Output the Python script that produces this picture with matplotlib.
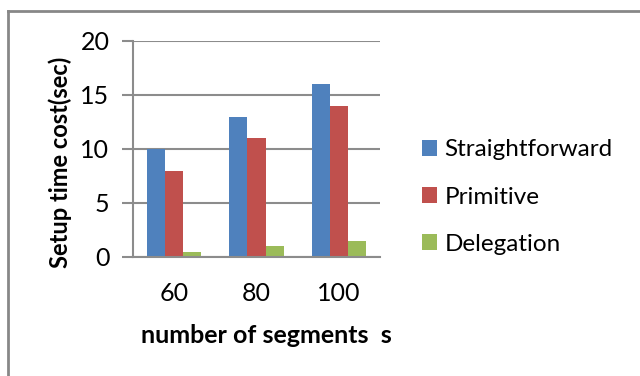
import matplotlib
matplotlib.use("Agg")
import matplotlib.pyplot as plt
from matplotlib.lines import Line2D
from matplotlib.patches import Patch
import numpy as np

categories = ["60", "80", "100"]
series_names = ["Straightforward", "Primitive", "Delegation"]
straightforward = [10, 13, 16]
primitive = [8, 11, 14]
delegation = [0.5, 1, 1.5]
colors = ["#4F81BD", "#C0504D", "#9BBB59"]
y_ticks = [0, 5, 10, 15, 20]

plt.rcParams["font.family"] = ["Lato", "DejaVu Sans"]

W, H = 640, 376
fig = plt.figure(figsize=(W / 100, H / 100), dpi=100)
ax = fig.add_axes([133 / W, 1 - 257 / H, (380 - 133) / W, (257 - 41) / H])

x = np.arange(len(categories))
bw = 0.22
grid_c = "#8C8C8C"
for i, (vals, c) in enumerate(zip([straightforward, primitive, delegation], colors)):
    ax.bar(x + (i - 1) * bw, vals, width=bw, color=c, zorder=3, linewidth=0)

ax.set_xlim(-0.5, 2.5)
ax.set_ylim(0, 20)
ax.set_yticks(y_ticks)
ax.set_yticklabels([str(t) for t in y_ticks], fontsize=18)
ax.set_xticks(x)
ax.set_xticklabels(categories, fontsize=18)
ax.tick_params(axis="x", length=0, pad=18)
ax.tick_params(axis="y", length=8, width=1.5, color=grid_c, pad=9)
ax.yaxis.grid(True, color=grid_c, linewidth=1.5, zorder=0)
for s in ["top", "right"]:
    ax.spines[s].set_visible(False)
for s in ["left", "bottom"]:
    ax.spines[s].set_color(grid_c)
    ax.spines[s].set_linewidth(1.5)
    ax.spines[s].set_zorder(4)

ax.set_ylabel("Setup time cost(sec)", fontsize=17, fontweight="bold")
ax.yaxis.set_label_coords(-0.247, 0.44)
ax.set_xlabel("number of segments  s", fontsize=18, fontweight="bold", labelpad=14)
ax.xaxis.label.set_x(0.538)

handles = [Patch(facecolor=c, edgecolor="none") for c in colors]
fig.legend(handles, series_names, loc="center left",
           bbox_to_anchor=(422 / W, 1 - 197 / H), frameon=False,
           fontsize=17.5, handlelength=0.62, handleheight=0.62,
           handletextpad=0.3, labelspacing=1.08, borderpad=0,
           borderaxespad=0)

# outer chart frame
fig.add_artist(Line2D([8 / W, 8 / W], [0, 1 - 11 / H], color="#878787", lw=2))
fig.add_artist(Line2D([8 / W, 1], [1 - 11 / H, 1 - 11 / H], color="#878787", lw=2))

fig.savefig("out.png", dpi=100)
